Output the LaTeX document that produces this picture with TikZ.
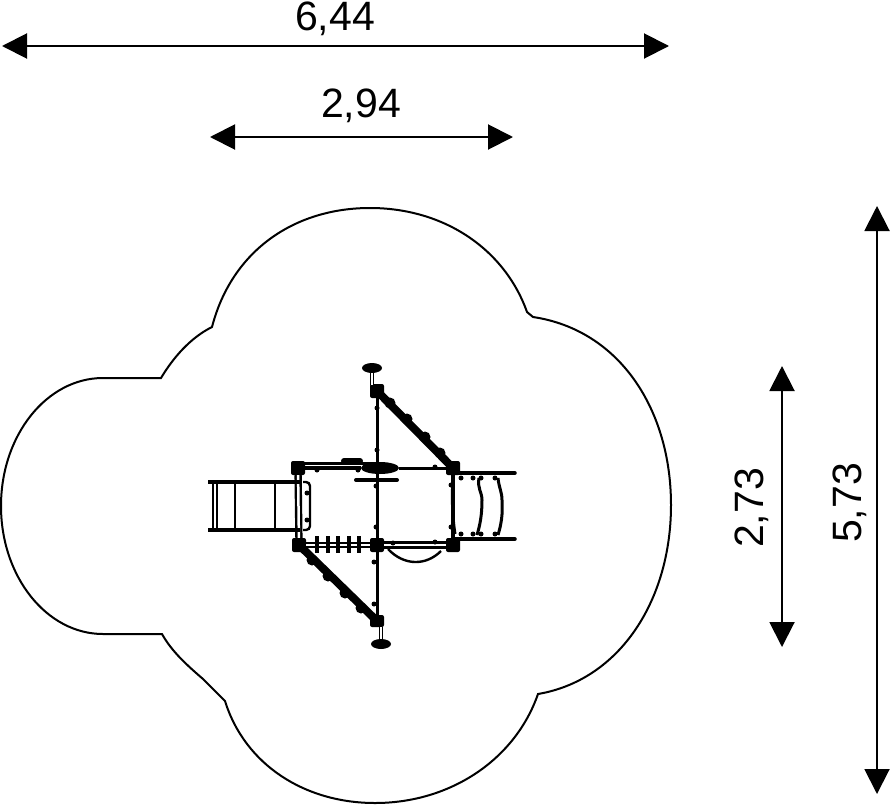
\documentclass[tikz,border=0pt]{standalone}
\usepackage{fontspec}
\setmainfont{Liberation Sans}
\usetikzlibrary{arrows.meta,shapes.geometric}

\begin{document}
\begin{tikzpicture}[x=1pt,y=-1pt,>={Triangle[length=25pt,width=25pt]},
                    dim line/.style={<->,line width=2pt},
                    dim label/.style={font=\fontsize{41}{41}\selectfont,inner sep=0pt},
                    border/.style={line width=2pt},
                    tube/.style={line width=3pt},
                    thin tube/.style={line width=2.4pt},
                    brace/.style={line width=8pt},
                    post/.style={fill,inner sep=0pt,minimum size=14pt,rounded corners=2pt},
                    foot/.style={ellipse,fill,inner sep=0pt,minimum width=20pt,minimum height=10pt},
                    lobe/.style={circle,fill,inner sep=0pt,minimum size=11pt},
                    bolt/.style={circle,fill,inner sep=0pt,minimum size=5pt}]
  \useasboundingbox (0,0) rectangle (891,806);
  % dimensions
  \coordinate (w1) at (2,46);
  \coordinate (w2) at (669,46);
  \coordinate (s1) at (210,137);
  \coordinate (s2) at (513,137);
  \coordinate (d1) at (782,366);
  \coordinate (d2) at (782,647);
  \coordinate (h1) at (877,206);
  \coordinate (h2) at (877,794);
  \draw[dim line] (w1) -- (w2);
  \draw[dim line] (s1) -- (s2);
  \draw[dim line] (d1) -- (d2);
  \draw[dim line] (h1) -- (h2);
  \node[dim label] (l1) at (335,19) {6,44};
  \node[dim label] (l2) at (361,106) {2,94};
  \node[dim label,rotate=90] (l3) at (752,508) {2,73};
  \node[dim label,rotate=90] (l4) at (850,503) {5,73};
  % safety zone
  \draw[border] (161,378) -- (103,378)
    arc[start angle=-90,end angle=-270,x radius=102,y radius=128]
    -- (162,634)
    .. controls (172,652) and (188,666) .. (203,679) -- (225,701)
    .. controls (245,765) and (305,803) .. (375,803)
    .. controls (450,803) and (515,760) .. (538,694)
    .. controls (620,680) and (671,600) .. (671,505)
    .. controls (671,410) and (620,330) .. (533,317) -- (527,312)
    .. controls (505,250) and (445,208) .. (370,208)
    .. controls (295,208) and (232,250) .. (212,327)
    .. controls (190,338) and (173,358) .. (161,378) -- cycle;
  % posts
  \node[post] (pa) at (298,468) {};
  \node[ellipse,fill,inner sep=0pt,minimum width=38pt,minimum height=12pt] (pb) at (380,468) {};
  \node[post] (pc) at (453,468) {};
  \node[post] (pd) at (299,545) {};
  \node[post] (pe) at (377,545) {};
  \node[post] (pf) at (453,545) {};
  \node[post] (pg) at (377,391) {};
  \node[post,minimum height=12pt] (ph) at (377,621) {};
  % feet
  \node[foot] (fa) at (372,368) {};
  \node[foot] (fb) at (381,644) {};
  \draw[line width=1.6pt,double,double distance=1.5pt] (fa) -- (372,385);
  \draw[line width=1.6pt,double,double distance=1.5pt] (fb) -- (381,627);
  % frame
  \draw[tube] (pg) -- (ph);
  \draw[tube] (pb) -- (pc);
  \draw[line width=3pt] (298,463) -- (377,463);
  \draw[line width=3.5pt] (pa) -- (pb);
  \draw[thin tube,double,double distance=1.8pt] (pd) -- (pe);
  \draw[thin tube,double,double distance=2.5pt] (pe) -- (pf);
  \draw[thin tube,double,double distance=2.5pt] (pa) -- (pd);
  \draw[line width=3.5pt] (pc) -- (pf);
  % braces
  \draw[brace] (pg.center) -- (pc.center);
  \draw[brace] (pd.center) -- (ph.center);
  \foreach \bx/\by in {390/403,407/419,425/437,440/453,312/560,328/576,345/593,361/608}
    \node[lobe] at (\bx,\by) {};
  % crossbar and top ridge
  \coordinate (ca) at (356,480);
  \coordinate (cb) at (397,480);
  \draw[line width=4pt,line cap=round] (ca) -- (cb);
  \coordinate (ra) at (344,461);
  \coordinate (rb) at (360,461);
  \draw[line width=6pt,line cap=round] (ra) -- (rb);
  % ladder rungs
  \foreach \rx in {317,328,338,349,359} {
    \coordinate (ra\rx) at (\rx,536);
    \coordinate (rb\rx) at (\rx,553);
    \draw[line width=3.2pt] (ra\rx) -- (rb\rx);
  }
  % slide
  \coordinate (sa) at (208,482);
  \coordinate (sb) at (300,482);
  \coordinate (sc) at (208,530);
  \coordinate (sd) at (300,530);
  \draw[line width=3.5pt] (sa) -- (sb);
  \draw[line width=3.5pt] (sc) -- (sd);
  \foreach \sx in {213,217,235,275}
    \draw[thin tube] (\sx,482) -- (\sx,530);
  \draw[thin tube,rounded corners=4pt] (303,482) -- (310,482) -- (310,530) -- (303,530);
  % arc under platform
  \draw[thin tube] (388,549) .. controls (404,566) and (426,566) .. (441,551);
  % net and rails on right
  \coordinate (na) at (453,473);
  \coordinate (nb) at (515,473);
  \coordinate (nc) at (453,539);
  \coordinate (nd) at (515,539);
  \draw[line width=3.5pt,line cap=round] (na) -- (nb);
  \draw[line width=3.5pt,line cap=round] (nc) -- (nd);
  \draw[tube] (453,475) .. controls (452,495) and (452,515) .. (455,534);
  \draw[tube] (479,478) .. controls (477,488) and (482,492) .. (482,500)
    .. controls (482,515) and (480,525) .. (477,535);
  \draw[tube] (498,478) .. controls (499,488) and (502,492) .. (502,500)
    .. controls (503,515) and (501,525) .. (498,535);
  % bolts
  \foreach \bx/\by in {377/408,377/450,374/562,374/604,376/486,376/527,393/467,435/467,
                       393/543,435/542,317/470,358/470,307/493,307/520,
                       461/478,473/478,481/478,495/478,461/534,473/534,481/534,495/534,451/485,451/527}
    \node[bolt] at (\bx,\by) {};
\end{tikzpicture}
\end{document}
